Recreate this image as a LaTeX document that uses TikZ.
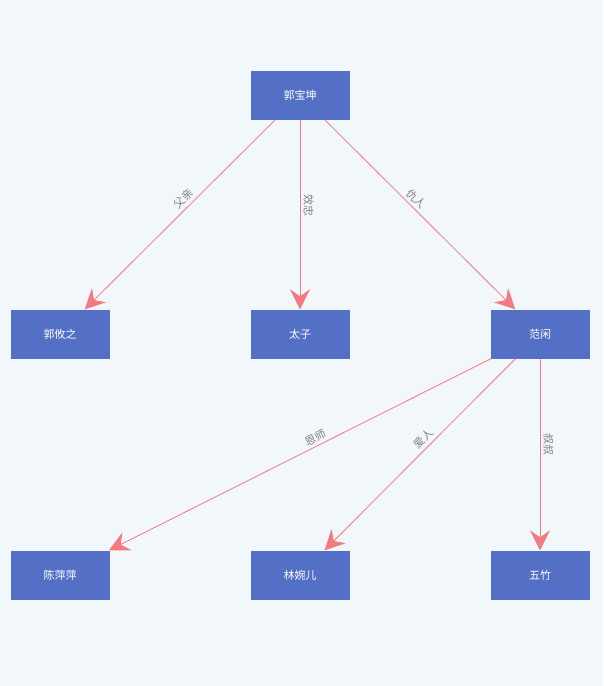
\documentclass[tikz,border=0pt]{standalone}
\usepackage{fontspec}
\setmainfont{Noto Sans CJK SC}
\usetikzlibrary{arrows.meta,positioning}
\definecolor{bgcol}{HTML}{F1F7FA}
\definecolor{boxcol}{HTML}{5470C6}
\definecolor{edgecol}{HTML}{F27A80}
\tikzset{
 person/.style={fill=boxcol, minimum width=99pt, minimum height=49pt, inner sep=0pt, text=white, font=\fontsize{11}{13}\selectfont},
 rel/.style={draw=edgecol, line width=0.8pt, -{Stealth[length=20pt,width=20pt,inset=7pt]}},
 rlabel/.style={sloped, above, pos=0.45, text=gray, font=\fontsize{11}{13}\selectfont, inner sep=3pt}
}
\begin{document}
\begin{tikzpicture}[x=1pt, y=-1pt]
 \fill[bgcol] (0,0) rectangle (603,686);
 \useasboundingbox (0,0) rectangle (603,686);
 \node[person] (gbk) at (300, 95) {郭宝坤};
 \node[person] (gyz) at (60, 334) {郭攸之};
 \node[person] (tz) at (300, 334) {太子};
 \node[person] (fx) at (540, 334) {范闲};
 \node[person] (cpp) at (60, 575) {陈萍萍};
 \node[person] (lwe) at (300, 575) {林婉儿};
 \node[person] (wz) at (540, 575) {五竹};
 % relations
 \path[rel] (gbk) -- node[rlabel] {父亲} (gyz);
 \path[rel] (gbk) -- node[rlabel] {效忠} (tz);
 \path[rel] (gbk) -- node[rlabel] {仇人} (fx);
 \path[rel] (fx) -- node[rlabel] {恩师} (cpp);
 \path[rel] (fx) -- node[rlabel] {爱人} (lwe);
 \path[rel] (fx) -- node[rlabel] {叔叔} (wz);
\end{tikzpicture}
\end{document}
